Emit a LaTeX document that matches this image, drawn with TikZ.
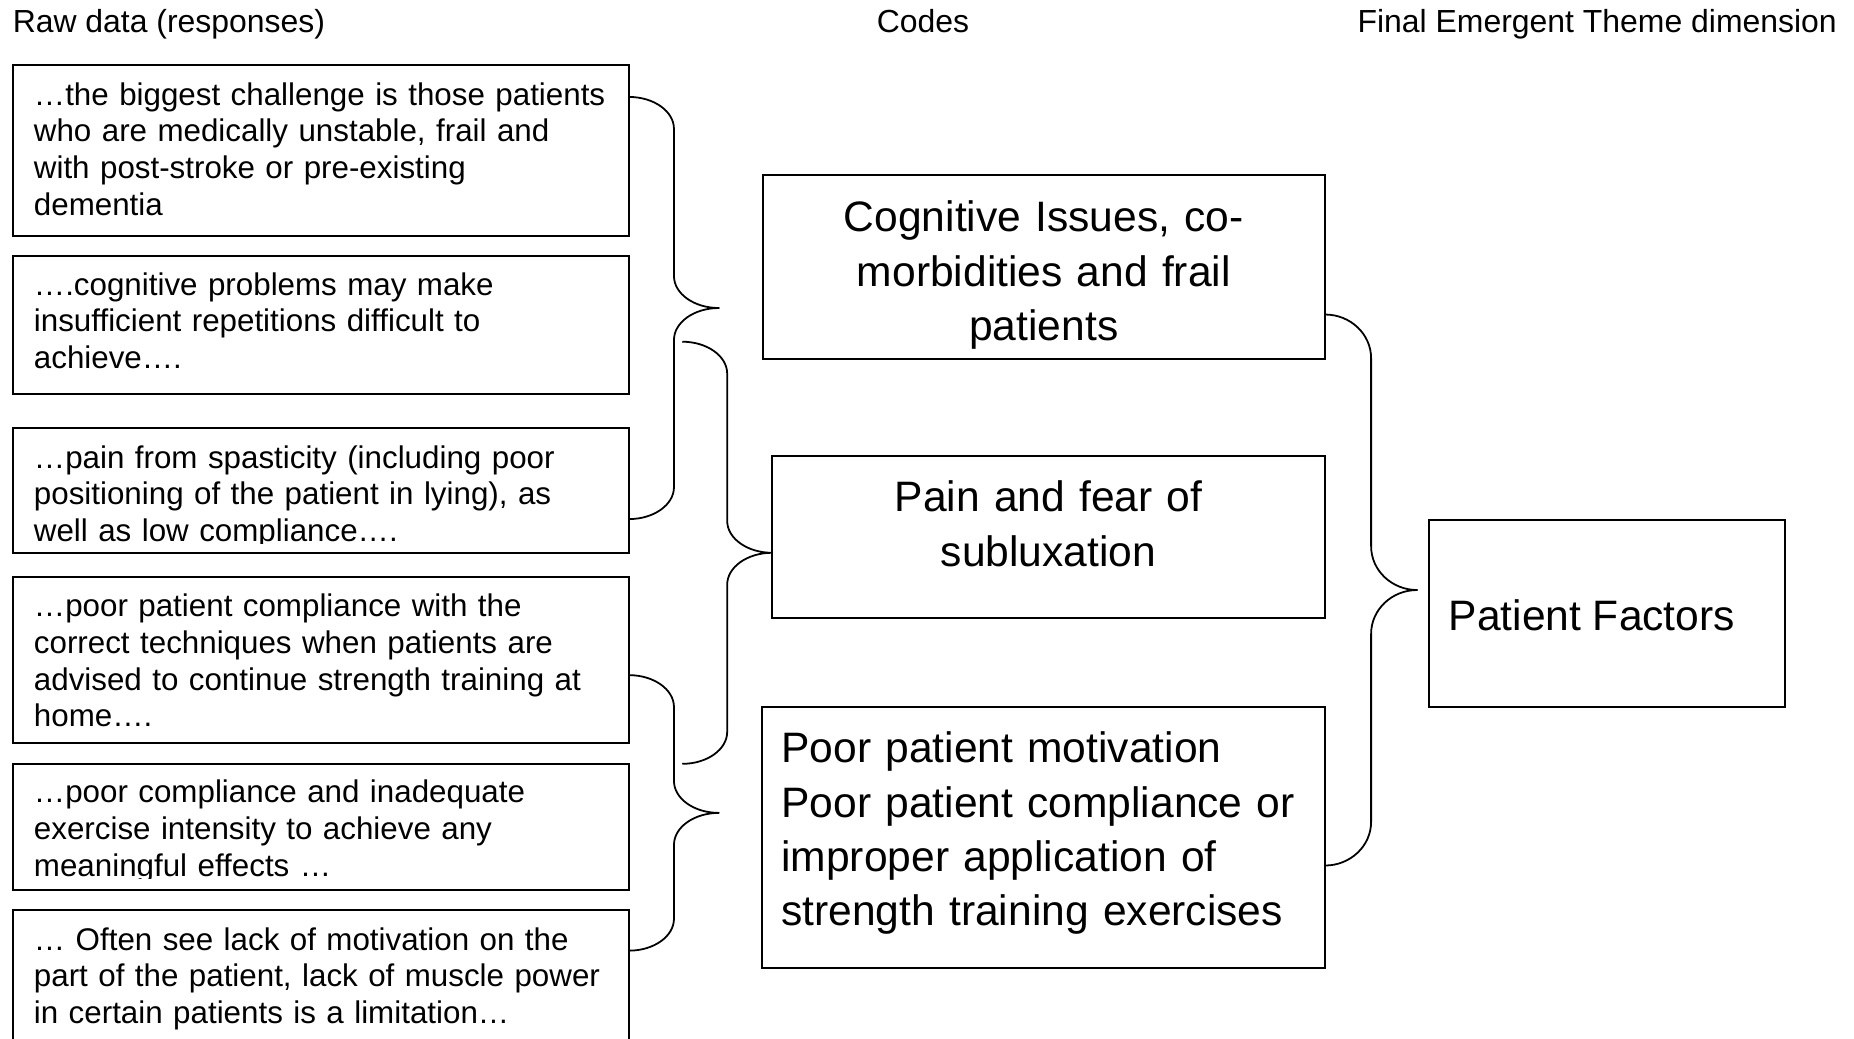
\documentclass[tikz,border=0pt]{standalone}
\usepackage{fontspec}
\setmainfont{Liberation Sans}
\usetikzlibrary{calc}

\tikzset{
  box/.style={draw, line width=1.7pt, rectangle, inner sep=0pt, outer sep=0pt, anchor=north west},
  bracestyle/.style={line width=1.5pt, line join=round},
  rawtext/.style={font=\fontsize{26.5pt}{31pt}\selectfont, align=left, text width=560pt, inner sep=0pt, anchor=base west},
  codetext/.style={font=\fontsize{36pt}{46pt}\selectfont, inner sep=0pt},
  header/.style={font=\fontsize{27pt}{31pt}\selectfont, inner sep=0pt, anchor=base west},
}

% curly brace: #1 upper end, #2 tip, #3 lower end, #4 half width, #5 curl radius
\newcommand\drawcurly[5]{%
  \draw[bracestyle] (#1)
    .. controls +({0.552*#4},0) and +(0,{-0.552*#5}) .. ($(#1)+(#4,#5)$)
    -- ($(#2)+(-#4,-#5)$)
    .. controls +(0,{0.552*#5}) and +({-0.552*#4},0) .. (#2)
    .. controls +({-0.552*#4},0) and +(0,{-0.552*#5}) .. ($(#2)+(-#4,#5)$)
    -- ($(#3)+(#4,-#5)$)
    .. controls +(0,{0.552*#5}) and +({0.552*#4},0) .. (#3);}

\begin{document}
\begin{tikzpicture}[x=1pt, y=-1pt]
\useasboundingbox (0,0) rectangle (1568,878);
\clip (0,0) rectangle (1568,878);

% column headings
\node[header] (h1) at (10.6,27.5) {Raw data (responses)};
\node[header] (h2) at (741.3,27.5) {Codes};
\node[header] (h3) at (1148,27.5) {Final Emergent Theme dimension};

% raw data boxes
\node[box, minimum width=521pt, minimum height=144.3pt] (r1) at (11,55) {};
\node[box, minimum width=521pt, minimum height=116.4pt] (r2) at (11,216.6) {};
\node[box, minimum width=521pt, minimum height=106pt] (r3) at (11,362) {};
\node[box, minimum width=521pt, minimum height=140.5pt] (r4) at (11,488) {};
\node[box, minimum width=521pt, minimum height=107pt] (r5) at (11,646) {};
\node[box, minimum width=521pt, minimum height=140pt] (r6) at (11,769.6) {};

\node[rawtext] (t1) at ($(r1.north west)+(17.5,34)$)
  {…the biggest challenge is those patients\\who are medically unstable, frail and\\with post-stroke or pre-existing\\dementia};
\node[rawtext] (t2) at ($(r2.north west)+(17.5,33)$)
  {….cognitive problems may make\\insufficient repetitions difficult to\\achieve….};
\begin{scope}
  \clip (r3.north west) rectangle (r3.east |- 0,459.5);
  \node[rawtext] (t3) at ($(r3.north west)+(17.5,34)$)
    {…pain from spasticity (including poor\\positioning of the patient in lying), as\\well as low compliance….};
\end{scope}
\node[rawtext] (t4) at ($(r4.north west)+(17.5,33.6)$)
  {…poor patient compliance with the\\correct techniques when patients are\\advised to continue strength training at\\home….};
\begin{scope}
  \clip (r5.north west) rectangle (r5.east |- 0,742.7);
  \node[rawtext] (t5) at ($(r5.north west)+(17.5,33)$)
    {…poor compliance and inadequate\\exercise intensity to achieve any\\meaningful effects …};
\end{scope}
\node[rawtext] (t6) at ($(r6.north west)+(17.5,34)$)
  {… Often see lack of motivation on the\\part of the patient, lack of muscle power\\in certain patients is a limitation…};

% code boxes
\node[box, minimum width=475.6pt, minimum height=155.6pt] (cA) at (645,148) {};
\node[box, minimum width=467.6pt, minimum height=137.1pt] (cB) at (653,385.6) {};
\node[box, minimum width=476pt, minimum height=221pt] (cC) at (644.6,598) {};

\node[codetext, align=center, text width=470pt, anchor=base] (tA) at ($(cA.north)+(0,48)$)
  {Cognitive Issues, co-\\morbidities and frail\\patients};
\node[codetext, align=center, text width=460pt, anchor=base] (tB) at ($(cB.north)+(0,47.4)$)
  {Pain and fear of\\subluxation};
\node[codetext, align=left, text width=470pt, anchor=base west] (tC) at ($(cC.north west)+(16,47)$)
  {Poor patient motivation\\Poor patient compliance or\\improper application of\\strength training exercises};

% theme box
\node[box, minimum width=301pt, minimum height=158pt] (pf) at (1208.6,439.8) {};
\node[codetext, anchor=base west] (tpf) at ($(pf.north west)+(16.4,93.2)$) {Patient Factors};

% brace end points and tips
\coordinate (b1s) at (r1.east |- 0,82);
\coordinate (b1e) at (r3.east |- 0,439);
\coordinate (b1t) at ($(r1.east |- 0,260.5)+(76,0)$);

\coordinate (b2t) at (cB.west |- 0,467.5);
\coordinate (b2s) at ($(b2t)+(-76,-178.5)$);
\coordinate (b2e) at ($(b2t)+(-76,178.5)$);

\coordinate (b3s) at (r4.east |- 0,571);
\coordinate (b3e) at (r6.east |- 0,804);
\coordinate (b3t) at ($(r4.east |- 0,687.5)+(76,0)$);

\coordinate (b4s) at (cA.east |- 0,266);
\coordinate (b4e) at (cC.east |- 0,732);
\coordinate (b4t) at ($(cA.east |- 0,499)+(78,0)$);

\drawcurly{b1s}{b1t}{b1e}{38}{27}
\drawcurly{b2s}{b2t}{b2e}{38}{27}
\drawcurly{b3s}{b3t}{b3e}{38}{27}
\drawcurly{b4s}{b4t}{b4e}{39}{37}

\end{tikzpicture}
\end{document}
